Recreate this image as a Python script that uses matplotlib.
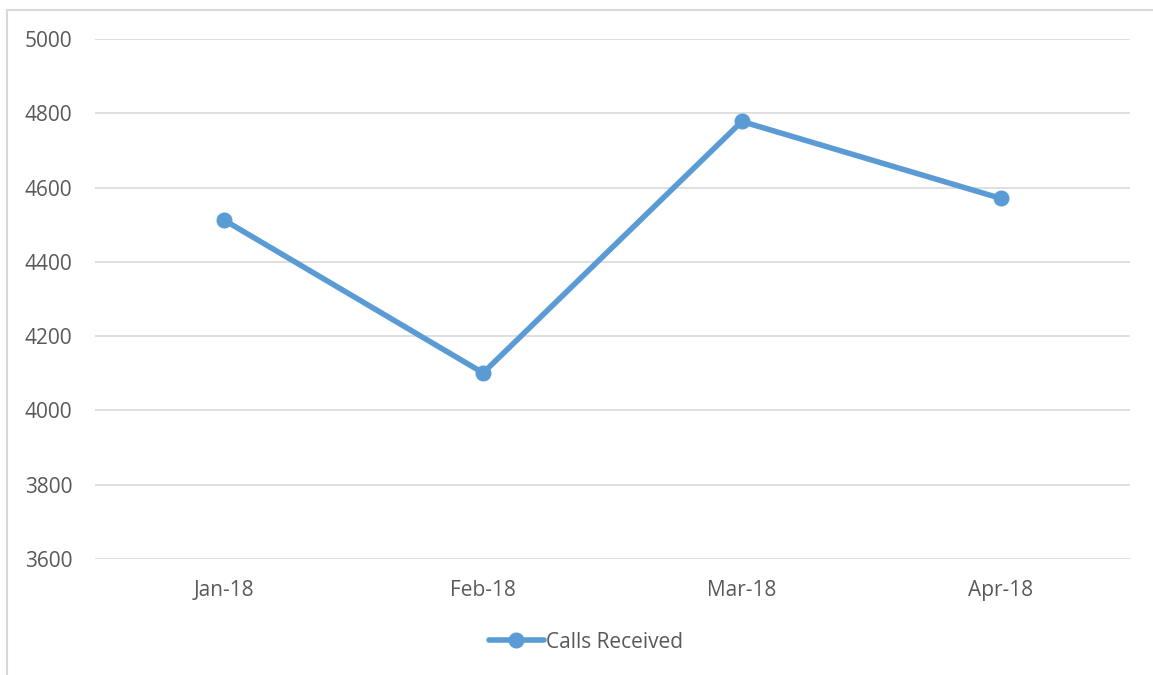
import matplotlib.pyplot as plt
from matplotlib.patches import Rectangle

# Chart data
months = ['Jan-18', 'Feb-18', 'Mar-18', 'Apr-18']
calls_received = [4512, 4101, 4778, 4571]
y_ticks = [3600, 3800, 4000, 4200, 4400, 4600, 4800, 5000]

plt.rcParams['font.family'] = ['Open Sans', 'DejaVu Sans']
text_color = '#595959'
grid_color = '#D9D9D9'
line_color = '#5B9BD5'

W, H = 1153, 675
fig = plt.figure(figsize=(W / 100, H / 100), dpi=100)

# Axes placed in pixel terms of the reference
left, right, top, bottom = 95, 1130, 39, 559
ax = fig.add_axes([left / W, 1 - bottom / H, (right - left) / W, (bottom - top) / H])

x = range(len(months))
ax.plot(x, calls_received, color=line_color, linewidth=4.0,
        marker='o', markersize=10.5, label='Calls Received', solid_capstyle='round')

ax.set_xlim(-0.5, len(months) - 0.5)
ax.set_ylim(y_ticks[0], y_ticks[-1])
ax.set_yticks(y_ticks)
ax.set_xticks(list(x))
ax.set_xticklabels(months)

ax.grid(axis='y', color=grid_color, linewidth=1.2)
ax.set_axisbelow(True)
for s in ax.spines.values():
    s.set_visible(False)
ax.tick_params(axis='both', length=0, labelsize=15, labelcolor=text_color)
ax.tick_params(axis='y', pad=16.5)
ax.tick_params(axis='x', pad=15)

leg = ax.legend(loc='center', bbox_to_anchor=(586 / W, 1 - 642 / H),
                bbox_transform=fig.transFigure, frameon=False,
                fontsize=15, handlelength=2.6, handletextpad=0.1)
for t in leg.get_texts():
    t.set_color(text_color)

# Outer chart border (cut off at right and bottom)
fig.patches.append(Rectangle((7 / W, -0.1), 1.2, 1.1 - 9.5 / H,
                             transform=fig.transFigure, fill=False,
                             edgecolor=grid_color, linewidth=1.5))

fig.savefig('out.png', dpi=100)
